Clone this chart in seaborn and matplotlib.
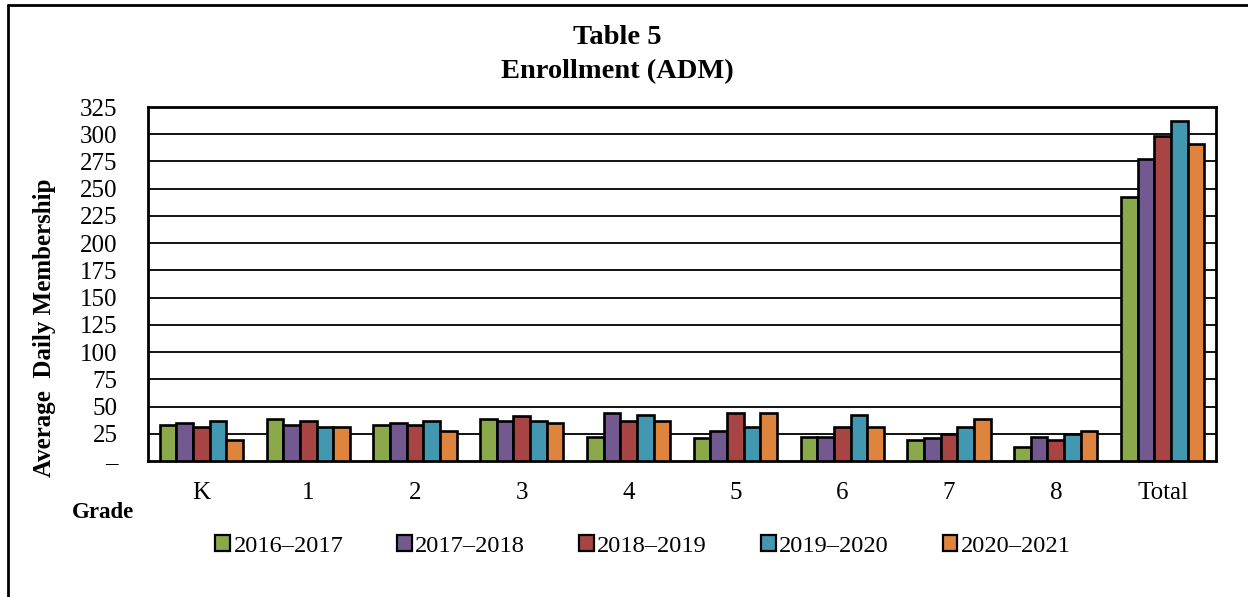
import matplotlib
matplotlib.use("Agg")
import matplotlib.pyplot as plt
import seaborn as sns
import pandas as pd
from matplotlib.patches import Patch
from matplotlib.lines import Line2D

grades = ["K", "1", "2", "3", "4", "5", "6", "7", "8", "Total"]
years = ["2016–2017", "2017–2018", "2018–2019", "2019–2020", "2020–2021"]
v2016 = [33, 39, 33, 39, 22, 21, 22, 19, 13, 242]
v2017 = [35, 33, 35, 37, 44, 28, 22, 21, 22, 277]
v2018 = [31, 37, 33, 41, 37, 44, 31, 25, 19, 298]
v2019 = [37, 31, 37, 37, 42, 31, 42, 31, 25, 312]
v2020 = [19, 31, 28, 35, 37, 44, 31, 39, 28, 291]
colors = ["#8BA84A", "#72598F", "#A84444", "#4298B0", "#DE843C"]
yticks = [0, 25, 50, 75, 100, 125, 150, 175, 200, 225, 250, 275, 300, 325]
ytick_labels = ["–"] + [str(t) for t in yticks[1:]]

rows = []
for yr, vals in zip(years, [v2016, v2017, v2018, v2019, v2020]):
    for g, v in zip(grades, vals):
        rows.append({"Grade": g, "Year": yr, "Value": v})
df = pd.DataFrame(rows)

sns.set_theme(style="white")
plt.rcParams["font.family"] = ["Liberation Serif", "DejaVu Serif"]
plt.rcParams["text.color"] = "black"
plt.rcParams["axes.labelcolor"] = "black"
plt.rcParams["xtick.color"] = "black"
plt.rcParams["ytick.color"] = "black"

fig = plt.figure(figsize=(12.48, 5.97), dpi=100)
ax = fig.add_axes([148/1248, 1 - 461/597, (1216-148)/1248, (461-107)/597])

sns.barplot(data=df, x="Grade", y="Value", hue="Year", order=grades,
            hue_order=years, palette=colors, saturation=1, width=0.78, ax=ax,
            edgecolor="black", linewidth=1.9, legend=False, zorder=3)

ax.set_ylim(0, 325)
ax.set_xlim(-0.5, len(grades) - 0.5)
ax.set_yticks(yticks)
ax.set_yticklabels(ytick_labels, fontsize=18)
ax.set_xticklabels(grades, fontsize=18)
ax.tick_params(axis="y", length=0, pad=22)
ax.tick_params(axis="x", length=0, pad=15)
for t in yticks[1:]:
    ax.axhline(t, color="black", lw=1.3, zorder=1)
for s in ax.spines.values():
    s.set_color("black")
    s.set_linewidth(2)
ax.set_xlabel("")
ax.set_ylabel("Average  Daily Membership", fontsize=18, fontweight="bold")
ax.yaxis.set_label_coords(-0.086, 0.376)

fig.text(617/1248, 1 - 37/597, "Table 5", ha="center", va="center",
         fontsize=20.5, fontweight="bold")
fig.text(617/1248, 1 - 72/597, "Enrollment (ADM)", ha="center", va="center",
         fontsize=20.5, fontweight="bold")
fig.text(103/1248, 1 - 513/597, "Grade", ha="center", va="center",
         fontsize=16.5, fontweight="bold")

handles = [Patch(facecolor=c, edgecolor="black", linewidth=1.6) for c in colors]
fig.legend(handles, years, loc="center", bbox_to_anchor=(643/1248, 1 - 546/597),
           ncol=5, frameon=False, fontsize=17.6, handlelength=0.6, handleheight=0.6,
           handletextpad=0.15, columnspacing=2.2)

fig.add_artist(Line2D([8/1248, 8/1248], [-0.01, 1 - 5/597], color="black", lw=2,
                      transform=fig.transFigure))
fig.add_artist(Line2D([8/1248, 1.01], [1 - 5/597, 1 - 5/597], color="black", lw=2,
                      transform=fig.transFigure))

fig.savefig("out.png", dpi=100)
